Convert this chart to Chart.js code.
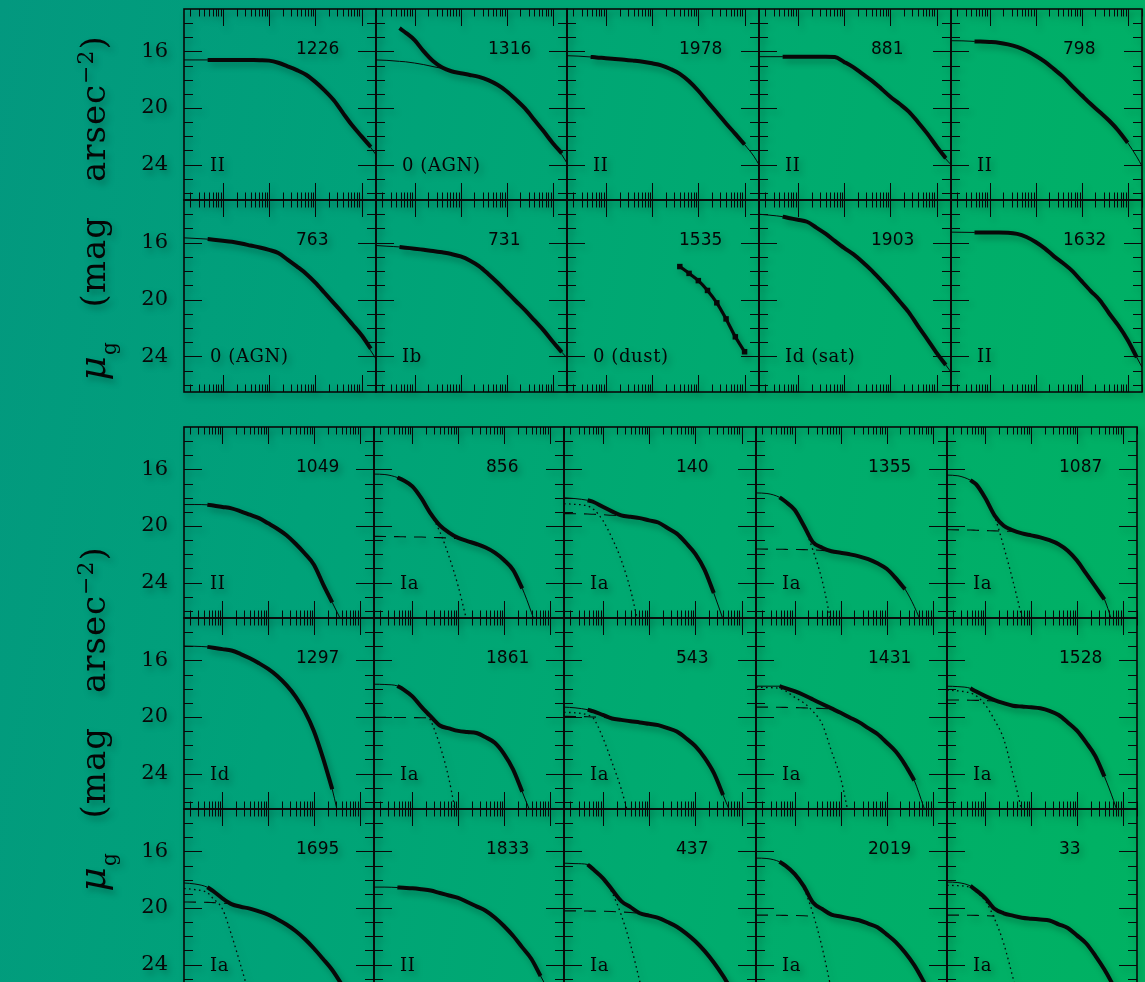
<!DOCTYPE html>
<html>
<head>
<meta charset="utf-8">
<script src="https://cdn.jsdelivr.net/npm/chart.js@4.4.0/dist/chart.umd.min.js"></script>
<style>
  html, body { margin: 0; padding: 0; overflow: hidden; }
  #fig {
    position: relative; width: 1145px; height: 982px; overflow: hidden;
    background: linear-gradient(100deg, #03987f 0%, #00a279 30%, #00ab6f 62%, #00b262 100%);
  }
  #plots {
    position: absolute; left: 0; top: 0; width: 1145px; height: 982px;
    filter: drop-shadow(3px 4px 3px rgba(0, 0, 0, 0.28));
  }
  canvas { position: absolute; }
  .gid { position: absolute; font: 17px "DejaVu Sans"; line-height: 17px; color: #050505; white-space: nowrap; }
  .cls { position: absolute; font: 18px "DejaVu Serif"; line-height: 18px; letter-spacing: 0.6px; color: #050505; white-space: nowrap; }
  .ytitle {
    position: absolute; width: 440px; height: 40px; line-height: 40px; text-align: center;
    font: 34px "DejaVu Serif"; letter-spacing: 1px; word-spacing: 22px; color: #050505;
    transform: rotate(-90deg); white-space: nowrap;
  }
  .ytitle .mu { font-style: italic; font-size: 38px; }
  .ytitle .sub { position: relative; top: 11px; font-size: 20px; }
  .ytitle .sup { position: relative; top: -12px; font-size: 22px; }
</style>
</head>
<body>
<div id="fig"><div id="plots"></div></div>
<script>
// radius grid shared by every profile (log axis)
const radius = [0.0145, 0.0251, 0.047, 0.0631, 0.1, 0.158, 0.251, 0.398, 0.631, 1, 1.58, 2.51,
                3.98, 6.31, 10, 15.8, 25.1, 39.8, 63.1, 100, 158, 205];
const yLabels = [16, 20, 24];

const topIds = [[1226, 1316, 1978, 881, 798], [763, 731, 1535, 1903, 1632]];
const topTypes = [['II', '0 (AGN)', 'II', 'II', 'II'], ['0 (AGN)', 'Ib', '0 (dust)', 'Id (sat)', 'II']];
const bottomIds = [[1049, 856, 140, 1355, 1087], [1297, 1861, 543, 1431, 1528], [1695, 1833, 437, 2019, 33]];
const bottomTypes = [['II', 'Ia', 'Ia', 'Ia', 'Ia'], ['Id', 'Ia', 'Ia', 'Ia', 'Ia'], ['Ia', 'II', 'Ia', 'Ia', 'Ia']];

// surface brightness (mag/arcsec^2): fit = model, obs = measured, inner/outer = components
const fit1226 = [16.6, 16.6, 16.6, 16.6, 16.6, 16.6, 16.6, 16.61, 16.62, 16.65, 16.8, 17.05, 17.32, 17.65, 18.15, 18.75, 19.45, 20.36, 21.24, 22.0, 22.8, 23.3];
const obs1226 = [null, null, 16.6, 16.6, 16.6, 16.6, 16.6, 16.61, 16.62, 16.65, 16.8, 17.05, 17.32, 17.65, 18.15, 18.75, 19.45, 20.36, 21.24, 22.0, 22.75];

const fit1316 = [16.6, 16.63, 16.7, 16.73, 16.82, 16.93, 17.07, 17.2, 17.38, 17.54, 17.66, 17.8, 18.03, 18.36, 18.81, 19.39, 20.03, 20.82, 21.63, 22.47, 23.3, 23.9];
const obs1316 = [null, null, 14.36, 14.66, 15.2, 16.0, 16.68, 17.14, 17.4, 17.54, 17.66, 17.8, 18.03, 18.36, 18.81, 19.39, 20.03, 20.82, 21.63, 22.47, 23.2];

const fit1978 = [16.3, 16.33, 16.39, 16.42, 16.48, 16.53, 16.58, 16.65, 16.73, 16.84, 16.98, 17.24, 17.58, 18.11, 18.78, 19.55, 20.32, 21.09, 21.83, 22.58, 23.4, 24.0];
const obs1978 = [null, null, 16.39, 16.42, 16.48, 16.53, 16.58, 16.65, 16.73, 16.84, 16.98, 17.24, 17.58, 18.11, 18.78, 19.55, 20.32, 21.09, 21.83, 22.58];

const fit881 = [16.37, 16.37, 16.37, 16.37, 16.37, 16.37, 16.37, 16.37, 16.4, 16.74, 17.11, 17.59, 18.06, 18.62, 19.2, 19.7, 20.25, 21.0, 21.81, 22.71, 23.6, 24.0];
const obs881 = [null, null, 16.37, 16.37, 16.37, 16.37, 16.37, 16.37, 16.4, 16.74, 17.11, 17.59, 18.06, 18.62, 19.2, 19.7, 20.25, 21.0, 21.81, 22.71, 23.55];

const fit798 = [15.24, 15.25, 15.29, 15.3, 15.33, 15.38, 15.5, 15.68, 15.95, 16.3, 16.72, 17.25, 17.8, 18.47, 19.1, 19.72, 20.3, 20.9, 21.6, 22.45, 23.45, 24.1];
const obs798 = [null, null, 15.29, 15.3, 15.33, 15.38, 15.5, 15.68, 15.95, 16.3, 16.72, 17.25, 17.8, 18.47, 19.1, 19.72, 20.3, 20.9, 21.6, 22.45];

const fit763 = [15.66, 15.7, 15.75, 15.79, 15.86, 15.94, 16.06, 16.2, 16.34, 16.51, 16.73, 17.19, 17.67, 18.18, 18.81, 19.52, 20.25, 20.98, 21.74, 22.51, 23.6, 24.17];
const obs763 = [null, null, 15.75, 15.79, 15.86, 15.94, 16.06, 16.2, 16.34, 16.51, 16.73, 17.19, 17.67, 18.18, 18.81, 19.52, 20.25, 20.98, 21.74, 22.51, 23.45];

const fit731 = [16.2, 16.25, 16.3, 16.35, 16.42, 16.5, 16.58, 16.68, 16.8, 16.97, 17.25, 17.65, 18.2, 18.8, 19.45, 20.1, 20.75, 21.45, 22.15, 22.95, 23.7, 24.1];
const obs731 = [null, null, 16.3, 16.35, 16.42, 16.5, 16.58, 16.68, 16.8, 16.97, 17.25, 17.65, 18.2, 18.8, 19.45, 20.1, 20.75, 21.45, 22.15, 22.95, 23.7];

const obs1535 = [null, null, null, null, null, null, null, null, null, null, null, null, 17.68, 18.16, 18.67, 19.36, 20.23, 21.36, 22.62, 23.67];

const fit1903 = [14.0, 14.07, 14.17, 14.26, 14.39, 14.53, 14.94, 15.37, 15.88, 16.37, 16.81, 17.36, 17.97, 18.65, 19.35, 20.12, 20.9, 21.87, 22.8, 23.75, 24.6, 25.1];
const obs1903 = [null, null, 14.17, 14.26, 14.39, 14.53, 14.94, 15.37, 15.88, 16.37, 16.81, 17.36, 17.97, 18.65, 19.35, 20.12, 20.9, 21.87, 22.8, 23.75, 24.6];

const fit1632 = [15.26, 15.27, 15.28, 15.28, 15.29, 15.29, 15.3, 15.38, 15.6, 15.95, 16.4, 16.96, 17.45, 18.0, 18.71, 19.4, 20.06, 20.98, 21.84, 22.84, 24.07, 24.75];
const obs1632 = [null, null, 15.28, 15.28, 15.29, 15.29, 15.3, 15.38, 15.6, 15.95, 16.4, 16.96, 17.45, 18.0, 18.71, 19.4, 20.06, 20.98, 21.84, 22.84, 24.07];

const fit1049 = [18.48, 18.48, 18.5, 18.55, 18.65, 18.75, 18.96, 19.2, 19.44, 19.81, 20.19, 20.65, 21.25, 21.94, 22.73, 24.1, 25.4, 26.7];
const obs1049 = [null, null, 18.5, 18.55, 18.65, 18.75, 18.96, 19.2, 19.44, 19.81, 20.19, 20.65, 21.25, 21.94, 22.73, 24.1, 25.4];

const fit856 = [16.33, 16.36, 16.57, 16.76, 17.2, 18.05, 19.12, 19.95, 20.46, 20.84, 21.06, 21.27, 21.52, 21.88, 22.4, 23.1, 24.4, 26.1, 28.0];
const obs856 = [null, null, 16.57, 16.76, 17.2, 18.05, 19.12, 19.95, 20.46, 20.84, 21.06, 21.27, 21.52, 21.88, 22.4, 23.1, 24.4];
const outer856 = [20.73, 20.74, 20.75, 20.76, 20.77, 20.78, 20.8, 20.82, 20.85, 20.9];
const inner856 = [null, null, null, 16.76, 17.2, 18.05, 19.15, 20.4, 22.15, 24.25, 26.85];

const fit140 = [18.0, 18.06, 18.18, 18.3, 18.64, 18.96, 19.25, 19.35, 19.44, 19.6, 19.75, 20.14, 20.54, 21.2, 21.97, 23.08, 24.74, 26.6];
const obs140 = [null, null, 18.18, 18.3, 18.64, 18.96, 19.25, 19.35, 19.44, 19.6, 19.75, 20.14, 20.54, 21.2, 21.97, 23.08, 24.74];
const outer140 = [19.12, 19.13, 19.15, 19.17, 19.2, 19.24, 19.26];
const inner140 = [18.42, 18.47, 18.58, 18.82, 19.6, 20.84, 22.41, 24.52, 27.4];

const fit1355 = [17.66, 17.7, 17.97, 18.27, 18.85, 19.96, 21.15, 21.53, 21.78, 21.89, 22.0, 22.14, 22.34, 22.63, 23.02, 23.68, 24.46, 25.68, 27.2];
const obs1355 = [null, null, 17.97, 18.27, 18.85, 19.96, 21.15, 21.53, 21.78, 21.89, 22.0, 22.14, 22.34, 22.63, 23.02, 23.68, 24.46];
const outer1355 = [21.62, 21.63, 21.64, 21.65, 21.66, 21.67, 21.69, 21.72, 21.78];
const inner1355 = [null, null, null, 18.27, 18.85, 19.97, 21.72, 23.86, 26.9];

const fit1087 = [16.4, 16.45, 16.76, 17.06, 18.04, 19.24, 19.98, 20.31, 20.52, 20.66, 20.8, 21.0, 21.28, 21.74, 22.44, 23.35, 24.26, 25.18, 27.1];
const obs1087 = [null, null, 16.76, 17.06, 18.04, 19.24, 19.98, 20.31, 20.52, 20.66, 20.8, 21.0, 21.28, 21.74, 22.44, 23.35, 24.26, 25.18];
const outer1087 = [20.26, 20.27, 20.28, 20.3, 20.32, 20.34, 20.36, 20.38];
const inner1087 = [null, null, null, 17.06, 18.04, 19.3, 21.45, 23.85, 26.5];

const fit1297 = [14.98, 15.0, 15.04, 15.1, 15.2, 15.3, 15.55, 15.85, 16.2, 16.6, 17.1, 17.75, 18.55, 19.6, 21.0, 22.9, 25.1, 28.0];
const obs1297 = [null, null, 15.04, 15.1, 15.2, 15.3, 15.55, 15.85, 16.2, 16.6, 17.1, 17.75, 18.55, 19.6, 21.0, 22.9, 25.1];

const fit1861 = [17.68, 17.7, 17.8, 18.04, 18.54, 19.28, 19.96, 20.6, 20.8, 20.98, 21.06, 21.13, 21.43, 21.82, 22.6, 23.7, 25.28, 26.9];
const obs1861 = [null, null, 17.8, 18.04, 18.54, 19.28, 19.96, 20.6, 20.8, 20.98, 21.06, 21.13, 21.43, 21.82, 22.6, 23.7, 25.28];
const outer1861 = [20.02, 20.02, 20.03, 20.03, 20.04, 20.05, 20.06];
const inner1861 = [null, null, null, 18.04, 18.56, 19.35, 20.25, 22.0, 24.4, 27.8];

const fit543 = [19.3, 19.35, 19.48, 19.6, 19.85, 20.1, 20.2, 20.3, 20.38, 20.48, 20.57, 20.78, 21.03, 21.5, 22.06, 22.87, 23.95, 25.51, 27.1];
const obs543 = [null, null, 19.48, 19.6, 19.85, 20.1, 20.2, 20.3, 20.38, 20.48, 20.57, 20.78, 21.03, 21.5, 22.06, 22.87, 23.95, 25.51];
const outer543 = [19.95, 19.96, 19.98, 20.0, 20.03, 20.07];
const inner543 = [19.67, 19.7, 19.85, 20.1, 21.45, 23.2, 25.1, 27.5];

const fit1431 = [17.82, 17.82, 17.82, 17.95, 18.17, 18.44, 18.76, 19.08, 19.39, 19.7, 20.03, 20.36, 20.78, 21.2, 21.8, 22.44, 23.36, 24.48, 26.3, 28.1];
const obs1431 = [null, null, 17.82, 17.95, 18.17, 18.44, 18.76, 19.08, 19.39, 19.7, 20.03, 20.36, 20.78, 21.2, 21.8, 22.44, 23.36, 24.48];
const outer1431 = [19.3, 19.3, 19.31, 19.32, 19.33, 19.35, 19.37, 19.4, 19.42];
const inner1431 = [17.9, 17.92, 17.98, 18.15, 18.6, 19.0, 19.6, 20.5, 22.4, 24.3, 27.3];

const fit1528 = [17.82, 17.85, 17.97, 18.2, 18.52, 18.8, 19.02, 19.2, 19.26, 19.31, 19.38, 19.56, 19.86, 20.38, 20.96, 21.79, 22.75, 24.2, 25.9, 27.9];
const obs1528 = [null, null, 17.97, 18.2, 18.52, 18.8, 19.02, 19.2, 19.26, 19.31, 19.38, 19.56, 19.86, 20.38, 20.96, 21.79, 22.75, 24.2];
const outer1528 = [18.8, 18.8, 18.81, 18.82, 18.84, 18.86, 18.9];
const inner1528 = [18.1, 18.15, 18.3, 18.5, 19.15, 20.2, 21.55, 24.0, 26.7];

const fit1695 = [18.23, 18.3, 18.53, 18.81, 19.31, 19.72, 19.91, 20.04, 20.24, 20.47, 20.79, 21.16, 21.62, 22.19, 22.86, 23.6, 24.38, 25.38, 26.5, 27.8];
const obs1695 = [null, null, 18.53, 18.81, 19.31, 19.72, 19.91, 20.04, 20.24, 20.47, 20.79, 21.16, 21.62, 22.19, 22.86, 23.6, 24.38, 25.38, 26.5];
const outer1695 = [19.57, 19.58, 19.6, 19.62, 19.65, 19.7];
const inner1695 = [18.62, 18.7, 18.92, 19.34, 20.06, 21.9, 24.05, 26.3];

const fit1833 = [18.52, 18.52, 18.55, 18.57, 18.6, 18.67, 18.76, 18.94, 19.11, 19.28, 19.57, 19.88, 20.19, 20.67, 21.27, 21.96, 22.78, 23.6, 24.8, 26.0, 27.2];
const obs1833 = [null, null, 18.55, 18.57, 18.6, 18.67, 18.76, 18.94, 19.11, 19.28, 19.57, 19.88, 20.19, 20.67, 21.27, 21.96, 22.78, 23.6, 24.8];

const fit437 = [16.83, 16.86, 16.92, 17.28, 17.88, 18.69, 19.51, 19.94, 20.37, 20.54, 20.7, 20.99, 21.32, 21.79, 22.35, 23.03, 23.85, 24.8, 25.9, 27.2];
const obs437 = [null, null, 16.92, 17.28, 17.88, 18.69, 19.51, 19.94, 20.37, 20.54, 20.7, 20.99, 21.32, 21.79, 22.35, 23.03, 23.85, 24.8, 25.9];
const outer437 = [20.2, 20.2, 20.21, 20.22, 20.23, 20.25, 20.28, 20.32, 20.37];
const inner437 = [null, null, 16.92, 17.3, 17.95, 18.9, 20.5, 22.6, 25.2, 28.0];

const fit2019 = [16.47, 16.5, 16.73, 17.0, 17.58, 18.45, 19.61, 20.07, 20.47, 20.6, 20.73, 20.86, 21.1, 21.36, 21.86, 22.41, 23.15, 24.04, 25.17, 26.4];
const obs2019 = [null, null, 16.73, 17.0, 17.58, 18.45, 19.61, 20.07, 20.47, 20.6, 20.73, 20.86, 21.1, 21.36, 21.86, 22.41, 23.15, 24.04, 25.17, 26.4];
const outer2019 = [20.5, 20.5, 20.51, 20.52, 20.53, 20.55, 20.58];
const inner2019 = [null, null, null, 17.0, 17.6, 18.6, 20.4, 22.8, 25.8];

const fit33 = [18.16, 18.2, 18.44, 18.75, 19.3, 20.05, 20.37, 20.54, 20.68, 20.75, 20.81, 20.88, 21.15, 21.41, 21.93, 22.49, 23.36, 24.35, 25.5, 26.8];
const obs33 = [null, null, 18.44, 18.75, 19.3, 20.05, 20.37, 20.54, 20.68, 20.75, 20.81, 20.88, 21.15, 21.41, 21.93, 22.49, 23.36, 24.35, 25.5];
const outer33 = [20.5, 20.5, 20.51, 20.52, 20.54, 20.57];
const inner33 = [18.4, 18.42, 18.55, 18.85, 19.5, 20.75, 22.5, 24.9, 27.4];

const profiles = {
  1226: { fit: fit1226, obs: obs1226 }, 1316: { fit: fit1316, obs: obs1316 },
  1978: { fit: fit1978, obs: obs1978 }, 881: { fit: fit881, obs: obs881 },
  798: { fit: fit798, obs: obs798 }, 763: { fit: fit763, obs: obs763 },
  731: { fit: fit731, obs: obs731 }, 1535: { obs: obs1535, dots: true },
  1903: { fit: fit1903, obs: obs1903 }, 1632: { fit: fit1632, obs: obs1632 },
  1049: { fit: fit1049, obs: obs1049 },
  856: { fit: fit856, obs: obs856, inner: inner856, outer: outer856 },
  140: { fit: fit140, obs: obs140, inner: inner140, outer: outer140 },
  1355: { fit: fit1355, obs: obs1355, inner: inner1355, outer: outer1355 },
  1087: { fit: fit1087, obs: obs1087, inner: inner1087, outer: outer1087 },
  1297: { fit: fit1297, obs: obs1297 },
  1861: { fit: fit1861, obs: obs1861, inner: inner1861, outer: outer1861 },
  543: { fit: fit543, obs: obs543, inner: inner543, outer: outer543 },
  1431: { fit: fit1431, obs: obs1431, inner: inner1431, outer: outer1431 },
  1528: { fit: fit1528, obs: obs1528, inner: inner1528, outer: outer1528 },
  1695: { fit: fit1695, obs: obs1695, inner: inner1695, outer: outer1695 },
  1833: { fit: fit1833, obs: obs1833 },
  437: { fit: fit437, obs: obs437, inner: inner437, outer: outer437 },
  2019: { fit: fit2019, obs: obs2019, inner: inner2019, outer: outer2019 },
  33: { fit: fit33, obs: obs33, inner: inner33, outer: outer33 }
};

// panel grid edges in page pixels
const blocks = [
  { ids: topIds, types: topTypes, cols: [184, 376, 567, 759, 951, 1142], rows: [9, 200, 392], titleY: 208 },
  { ids: bottomIds, types: bottomTypes, cols: [184, 374, 564, 756, 947, 1137], rows: [427, 618, 809, 1000], titleY: 719 }
];

const xMin = 0.0145, xMax = 205, yMin = 13, yMax = 26.5;
const ink = '#080808';
const LABEL_W = 60;

// log minor/major tick spots along x
const xTicks = [];
for (let e = -2; e <= 2; e++) {
  for (let m = 1; m <= 9; m++) {
    const v = m * Math.pow(10, e);
    if (v > xMin && v < xMax) xTicks.push([v, m === 1]);
  }
}

// box with inward ticks on all four sides
const framePlugin = {
  id: 'frame',
  afterDatasetsDraw(chart) {
    const { ctx, chartArea: a, scales: { x, y } } = chart;
    ctx.save();
    ctx.strokeStyle = ink;
    ctx.lineWidth = 1;
    ctx.beginPath();
    xTicks.forEach(([v, major]) => {
      const px = Math.round(x.getPixelForValue(v)) + 0.5;
      const len = major ? 17 : 7.5;
      ctx.moveTo(px, a.top); ctx.lineTo(px, a.top + len);
      ctx.moveTo(px, a.bottom); ctx.lineTo(px, a.bottom - len);
    });
    for (let m = 14; m <= 26; m++) {
      const py = Math.round(y.getPixelForValue(m)) + 0.5;
      const len = m % 4 === 0 ? 18 : 9;
      ctx.moveTo(a.left, py); ctx.lineTo(a.left + len, py);
      ctx.moveTo(a.right, py); ctx.lineTo(a.right - len, py);
    }
    ctx.stroke();
    ctx.lineWidth = 1.6;
    ctx.strokeRect(a.left, a.top, a.right - a.left, a.bottom - a.top);
    ctx.restore();
  }
};

const toPoints = s => s.map((v, i) => ({ x: radius[i], y: v }));

function datasetsFor(p) {
  const base = { borderColor: ink, pointRadius: 0, pointHoverRadius: 0, fill: false, cubicInterpolationMode: 'monotone' };
  const sets = [];
  if (p.obs) {
    sets.push(Object.assign({}, base, p.dots
      ? { data: toPoints(p.obs), borderWidth: 3.2, pointRadius: 1.6, pointStyle: 'rect', backgroundColor: ink }
      : { data: toPoints(p.obs), borderWidth: 4 }));
  }
  if (p.fit) sets.push(Object.assign({}, base, { data: toPoints(p.fit), borderWidth: 1 }));
  if (p.inner) sets.push(Object.assign({}, base, { data: toPoints(p.inner), borderWidth: 1.3, borderDash: [1.6, 3.4] }));
  if (p.outer) sets.push(Object.assign({}, base, { data: toPoints(p.outer), borderWidth: 1.1, borderDash: [12, 8] }));
  return sets;
}

const host = document.getElementById('plots');

function addText(cls, html, left, top) {
  const d = document.createElement('div');
  d.className = cls;
  d.innerHTML = html;
  d.style.left = left + 'px';
  d.style.top = top + 'px';
  host.appendChild(d);
  return d;
}

function makePanel(id, type, x0, x1, y0, y1, withLabels) {
  const extra = withLabels ? LABEL_W : 0;
  const canvas = document.createElement('canvas');
  canvas.width = x1 - x0 + 2 + extra;
  canvas.height = y1 - y0 + 2;
  canvas.style.left = (x0 - 1 - extra) + 'px';
  canvas.style.top = (y0 - 1) + 'px';
  host.appendChild(canvas);

  const yAxis = withLabels ? {
    type: 'linear', reverse: true, min: yMin, max: yMax, display: true,
    grid: { display: false, drawTicks: false }, border: { display: false },
    ticks: { color: ink, font: { family: 'DejaVu Serif', size: 21 }, padding: 16 },
    afterBuildTicks: s => { s.ticks = yLabels.map(v => ({ value: v })); },
    afterFit: s => { s.width = LABEL_W; s.paddingTop = 0; s.paddingBottom = 0; }
  } : { type: 'linear', reverse: true, min: yMin, max: yMax, display: false };

  new Chart(canvas, {
    type: 'line',
    data: { datasets: datasetsFor(profiles[id]) },
    options: {
      responsive: false, animation: false, devicePixelRatio: 1, events: [],
      layout: { padding: 1, autoPadding: false },
      plugins: { legend: { display: false }, tooltip: { enabled: false } },
      scales: {
        x: { type: 'logarithmic', min: xMin, max: xMax, display: false },
        y: yAxis
      }
    },
    plugins: [framePlugin]
  });

  addText('gid', String(id), x0 + 112, y0 + 31);
  addText('cls', type, x0 + 26, y0 + 147);
}

blocks.forEach(b => {
  b.ids.forEach((row, r) => {
    row.forEach((id, c) => {
      makePanel(id, b.types[r][c], b.cols[c], b.cols[c + 1], b.rows[r], b.rows[r + 1], c === 0);
    });
  });
  addText('ytitle',
    '<span class="mu">\u03bc</span><span class="sub">g</span> (mag arsec<span class="sup">\u22122</span>)',
    90 - 220, b.titleY - 20);
});
</script>
</body>
</html>
